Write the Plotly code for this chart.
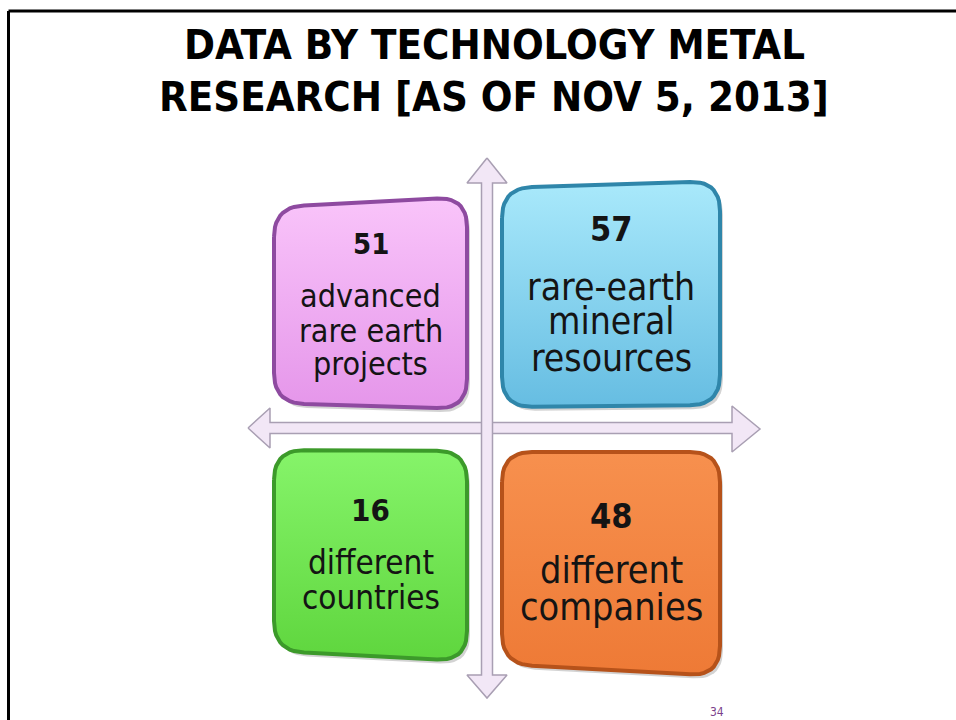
import numpy as np
import plotly.graph_objects as go

# ---- data ----
title_lines = ["DATA BY TECHNOLOGY METAL", "RESEARCH [AS OF NOV 5, 2013]"]
values = [51, 57, 16, 48]
labels = [
    ["advanced", "rare earth", "projects"],
    ["rare-earth", "mineral", "resources"],
    ["different", "countries"],
    ["different", "companies"],
]
page_number = "34"

# ---- styling / layout ----
W, H = 956, 720
fill_top = ["#f9c4fa", "#a9e9fb", "#86f46a", "#f7904e"]
fill_bot = ["#e596ea", "#66bde2", "#5fd63e", "#ee7a36"]
edge = ["#8e4aa0", "#2f86aa", "#3c9a2a", "#b6521a"]
# box corners (TL, TR, BR, BL) in px
boxes = [
    [(274, 207), (467, 197), (467, 409), (274, 403)],
    [(502, 188), (720, 181), (720, 405), (502, 407)],
    [(274, 450), (467, 451), (467, 661), (274, 651)],
    [(502, 452), (720, 452), (720, 676), (502, 664)],
]
num_y = [244, 229, 510, 516]
line_y = [[296, 331, 364], [287, 321, 358], [562, 597], [570, 607]]
num_size = [29, 34, 31, 34]
lab_size = [32, 37, 33, 37.5]
text_font = "DejaVu Sans Condensed"


def rounded_poly(pts, r=30, n=12):
    pts = [np.array(p, float) for p in pts]
    out = []
    k = len(pts)
    for i in range(k):
        p = pts[i]
        a = pts[i - 1]
        b = pts[(i + 1) % k]
        da = (a - p) / np.linalg.norm(a - p)
        db = (b - p) / np.linalg.norm(b - p)
        s = p + da * r
        e = p + db * r
        for t in np.linspace(0, 1, n):
            q = (1 - t) ** 2 * s + 2 * (1 - t) * t * p + t ** 2 * e
            out.append(q)
    out.append(out[0])
    arr = np.array(out)
    return arr[:, 0], arr[:, 1]


fig = go.Figure()

# arrows (cross)
cx, cy = 487, 428
hw = 5.5  # shaft half width
arrow_fill = "#f2e7f6"
arrow_line = "#a99fb3"
# horizontal double arrow
hx = [248, 270, 270, 732, 732, 760, 732, 732, 270, 270, 248]
hy = [cy, cy - 20, cy - hw, cy - hw, cy - 22, cy + 1, cy + 24, cy + hw, cy + hw, cy + 20, cy]
fig.add_trace(go.Scatter(x=hx, y=hy, mode="lines", fill="toself", fillcolor=arrow_fill,
                         line=dict(color=arrow_line, width=1.5), hoverinfo="skip", showlegend=False))
# vertical double arrow
vx = [cx, cx + 20, cx + hw, cx + hw, cx + 20, cx, cx - 20, cx - hw, cx - hw, cx - 20, cx]
vy = [158, 183, 183, 675, 675, 698, 675, 675, 183, 183, 158]
fig.add_trace(go.Scatter(x=vx, y=vy, mode="lines", fill="toself", fillcolor=arrow_fill,
                         line=dict(color=arrow_line, width=1.5), hoverinfo="skip", showlegend=False))

# boxes
for i in range(4):
    # shadow
    sx, sy = rounded_poly([(x + 3, y + 4) for x, y in boxes[i]])
    fig.add_trace(go.Scatter(x=sx, y=sy, mode="lines", fill="toself", fillcolor="rgba(80,80,80,0.25)",
                             line=dict(width=0), hoverinfo="skip", showlegend=False))
    bx, by = rounded_poly(boxes[i])
    fig.add_trace(go.Scatter(
        x=bx, y=by, mode="lines", fill="toself",
        fillgradient=dict(type="vertical", colorscale=[[0, fill_bot[i]], [1, fill_top[i]]]),
        line=dict(color=edge[i], width=4), hoverinfo="skip", showlegend=False))
    xc = np.mean([p[0] for p in boxes[i]])
    fig.add_annotation(x=xc, y=num_y[i], text=f"<b>{values[i]}</b>", showarrow=False,
                       xanchor="center", yanchor="middle",
                       font=dict(family=text_font, size=num_size[i], color="#141414"))
    for j, line in enumerate(labels[i]):
        fig.add_annotation(x=xc, y=line_y[i][j], text=line, showarrow=False,
                           xanchor="center", yanchor="middle",
                           font=dict(family=text_font, size=lab_size[i], color="#141414"))

# title
for j, (t, y) in enumerate(zip(title_lines, [44, 96])):
    fig.add_annotation(x=494, y=y, text=f"<b>{t}</b>", showarrow=False, xanchor="center",
                       yanchor="middle", font=dict(family=text_font, size=41.5, color="#000000"))

# page number
fig.add_annotation(x=717, y=712, text=page_number, showarrow=False, xanchor="center",
                   yanchor="middle", font=dict(family="DejaVu Sans Condensed", size=12, color="#7b3f8c"))

# slide border
fig.add_shape(type="line", x0=8.5, y0=11, x1=W, y1=11, line=dict(color="#000000", width=3))
fig.add_shape(type="line", x0=8.5, y0=11, x1=8.5, y1=H, line=dict(color="#000000", width=3))

fig.update_layout(
    width=W, height=H, margin=dict(l=0, r=0, t=0, b=0),
    paper_bgcolor="white", plot_bgcolor="white",
    xaxis=dict(range=[0, W], visible=False, fixedrange=True),
    yaxis=dict(range=[H, 0], visible=False, fixedrange=True),
    showlegend=False,
)
fig.write_html("out.html")
